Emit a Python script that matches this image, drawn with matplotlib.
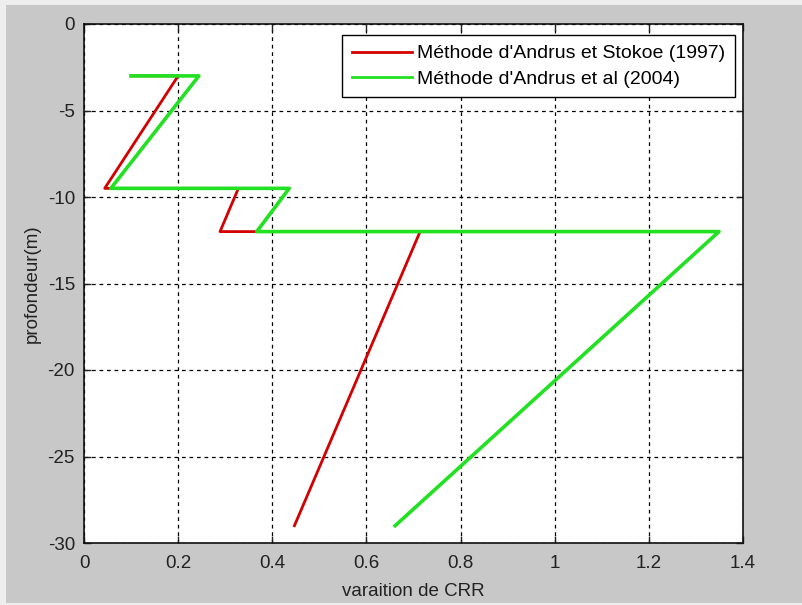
import matplotlib
matplotlib.use("Agg")
import matplotlib.pyplot as plt
from matplotlib.patches import Rectangle

plt.rcParams['font.family'] = ['Liberation Sans', 'DejaVu Sans']
plt.rcParams['axes.unicode_minus'] = False

# CRR profiles versus depth
depth = [-3, -3, -9.5, -9.5, -12, -12, -29]
crr_andrus_stokoe_1997 = [0.10, 0.20, 0.044, 0.328, 0.289, 0.714, 0.447]
crr_andrus_2004 = [0.10, 0.244, 0.057, 0.436, 0.367, 1.349, 0.661]

x_ticks = [0, 0.2, 0.4, 0.6, 0.8, 1, 1.2, 1.4]
x_ticklabels = ['0', '0.2', '0.4', '0.6', '0.8', '1', '1.2', '1.4']
y_ticks = [-30, -25, -20, -15, -10, -5, 0]

labels = ["Méthode d'Andrus et Stokoe (1997)", "Méthode d'Andrus et al (2004)"]

W, H = 802, 605
fig = plt.figure(figsize=(W / 100, H / 100), dpi=100, facecolor='#eeeeee')
# grey window area
fig.patches.append(Rectangle((6 / W, 2 / H), 1 - 6 / W, 1 - 7 / H,
                             transform=fig.transFigure, facecolor='#c8c8c8',
                             edgecolor='none', zorder=-10))

ax = fig.add_axes([84 / W, 1 - 543 / H, (743 - 84) / W, (543 - 24) / H])
ax.set_facecolor('white')
ax.set_zorder(5)

ax.plot(crr_andrus_stokoe_1997, depth, color='#d40000', lw=2.0, label=labels[0])
ax.plot(crr_andrus_2004, depth, color='#22e022', lw=2.6, label=labels[1])

ax.set_xlim(0, 1.4)
ax.set_ylim(-30, 0)
ax.set_xticks(x_ticks)
ax.set_xticklabels(x_ticklabels)
ax.set_yticks(y_ticks)

ax.grid(True, color='black', linestyle=(0, (3, 3)), linewidth=0.9)
ax.tick_params(direction='in', length=5, width=1, top=True, right=True,
               labelsize=13.5, colors='#222222')
ax.tick_params(axis='x', pad=8.5)
ax.tick_params(axis='y', pad=6.5)
for s in ax.spines.values():
    s.set_linewidth(1.2)
    s.set_color('#111111')

ax.set_xlabel('varaition de CRR', fontsize=13.5, labelpad=8, color='#222222')
ax.set_ylabel('profondeur(m)', fontsize=13.5, labelpad=5, color='#222222')

leg = ax.legend(loc='upper right',
                bbox_to_anchor=((735 - 84) / (743 - 84), (543 - 35) / (543 - 24)),
                borderaxespad=0, fontsize=14, frameon=True, fancybox=False,
                edgecolor='black', framealpha=1, handlelength=3.1,
                handletextpad=0.26, labelspacing=0.4, borderpad=0.5)
leg.get_frame().set_linewidth(1.0)
for line in leg.get_lines():
    line.set_linewidth(2.0)

fig.savefig('out.png', dpi=100, facecolor=fig.get_facecolor())
